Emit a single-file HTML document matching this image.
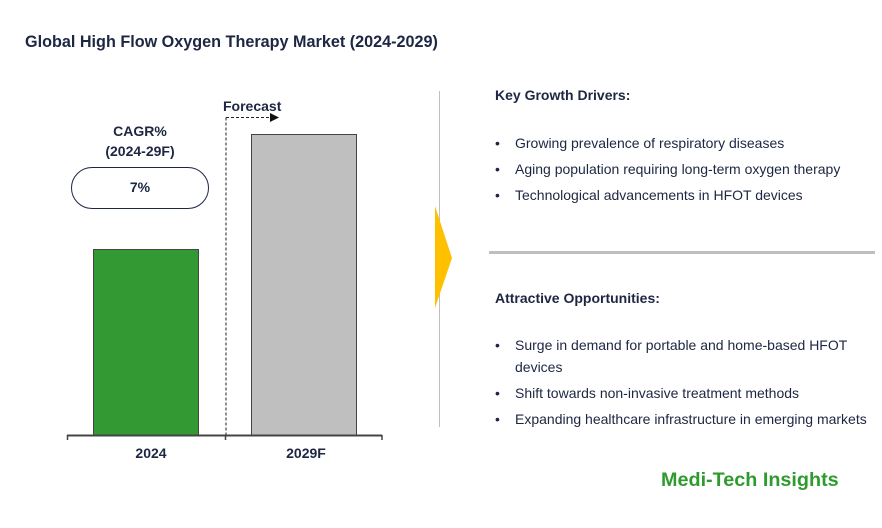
<!DOCTYPE html>
<html>
<head>
<meta charset="utf-8">
<style>
html,body{margin:0;padding:0;background:#fff;}
body{width:882px;height:528px;position:relative;overflow:hidden;font-family:"Liberation Sans",Arial,sans-serif;color:#1d2642;}
.t{position:absolute;white-space:nowrap;}
.b{font-weight:bold;}
.bul{position:absolute;left:495px;font-size:14px;line-height:22px;}
.bul .d{position:absolute;left:0;top:0;}
.bul .x{position:absolute;left:20px;top:0;white-space:nowrap;}
</style>
</head>
<body>
<div class="t b" style="left:25px;top:31px;font-size:16.2px;line-height:22px;">Global High Flow Oxygen Therapy Market (2024-2029)</div>

<svg width="882" height="528" style="position:absolute;left:0;top:0;">
  <rect x="93.5" y="249.5" width="105" height="185.5" fill="#339933" stroke="#444" stroke-width="1"/>
  <rect x="251.5" y="134.5" width="105" height="300.5" fill="#bfbfbf" stroke="#444" stroke-width="1"/>
  <line x1="67" y1="435.5" x2="382" y2="435.5" stroke="#444" stroke-width="2"/>
  <line x1="67.5" y1="435" x2="67.5" y2="440" stroke="#444" stroke-width="1.5"/>
  <line x1="225.5" y1="435" x2="225.5" y2="440" stroke="#444" stroke-width="1.5"/>
  <line x1="382" y1="435" x2="382" y2="440" stroke="#444" stroke-width="1.5"/>
  <line x1="226" y1="117.5" x2="226" y2="435" stroke="#222" stroke-width="1" stroke-dasharray="3,2"/>
  <line x1="226" y1="117.5" x2="270" y2="117.5" stroke="#222" stroke-width="1" stroke-dasharray="3,2"/>
  <polygon points="270,113 279,117.5 270,122" fill="#111"/>
  <rect x="71.5" y="167.5" width="137" height="41" rx="20.5" ry="20.5" fill="#fff" stroke="#1d2642" stroke-width="1"/>
  <line x1="439.5" y1="91" x2="439.5" y2="427" stroke="#c0c0c0" stroke-width="1"/>
  <polygon points="435,206 452,258 435,308" fill="#ffc000"/>
  <line x1="489" y1="252.5" x2="875" y2="252.5" stroke="#bfbfbf" stroke-width="3"/>
</svg>

<div class="t b" style="left:223px;top:97px;font-size:14px;line-height:18px;">Forecast</div>
<div class="t b" style="left:90px;top:121px;width:100px;text-align:center;font-size:14px;line-height:20px;">CAGR%<br>(2024-29F)</div>
<div class="t b" style="left:90px;top:178px;width:100px;text-align:center;font-size:14px;line-height:18px;">7%</div>
<div class="t b" style="left:101px;top:444px;width:100px;text-align:center;font-size:14px;line-height:18px;">2024</div>
<div class="t b" style="left:256px;top:444px;width:100px;text-align:center;font-size:14px;line-height:18px;">2029F</div>

<div class="t b" style="left:495px;top:86px;font-size:14px;line-height:18px;">Key Growth Drivers:</div>
<div class="bul" style="top:132px;"><span class="d">•</span><span class="x">Growing prevalence of respiratory diseases</span></div>
<div class="bul" style="top:158px;"><span class="d">•</span><span class="x">Aging population requiring long-term oxygen therapy</span></div>
<div class="bul" style="top:184px;"><span class="d">•</span><span class="x">Technological advancements in HFOT devices</span></div>

<div class="t b" style="left:495px;top:289px;font-size:14px;line-height:18px;">Attractive Opportunities:</div>
<div class="bul" style="top:334px;"><span class="d">•</span><span class="x">Surge in demand for portable and home-based HFOT<br>devices</span></div>
<div class="bul" style="top:382px;"><span class="d">•</span><span class="x">Shift towards non-invasive treatment methods</span></div>
<div class="bul" style="top:408px;"><span class="d">•</span><span class="x">Expanding healthcare infrastructure in emerging markets</span></div>

<div class="t b" style="left:661px;top:468px;font-size:19.8px;line-height:24px;color:#2f9b2f;">Medi-Tech Insights</div>
</body>
</html>
